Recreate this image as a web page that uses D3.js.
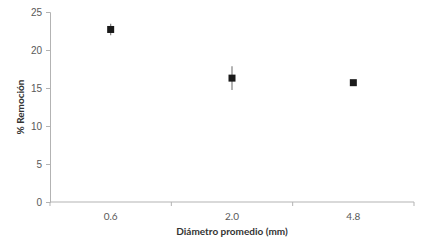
<!DOCTYPE html>
<html>
<head>
<meta charset="utf-8">
<script src="https://cdn.jsdelivr.net/npm/d3@7"></script>
<style>
  body { margin: 0; background: #fff; }
  svg { display: block; font-family: Lato, "Open Sans", sans-serif; }
</style>
</head>
<body>
<div id="chart"></div>
<script>
const categories = ["0.6", "2.0", "4.8"];
const removal = [22.7, 16.3, 15.7];
const removalErr = [0.75, 1.55, 0.3];
const yTicks = [0, 5, 10, 15, 20, 25];

const margin = {top: 12, right: 12, bottom: 50, left: 50};
const width = 426, height = 252;

const svg = d3.select("#chart").append("svg")
    .attr("width", width)
    .attr("height", height);

const x = d3.scaleBand()
    .domain(categories)
    .range([margin.left, width - margin.right]);

const y = d3.scaleLinear()
    .domain([0, 25])
    .range([height - margin.bottom, margin.top]);

// y axis
const yAxis = svg.append("g")
    .attr("transform", `translate(${margin.left},0)`)
    .call(d3.axisLeft(y).tickValues(yTicks).tickSize(4).tickPadding(4));
yAxis.select(".domain").attr("stroke", "#b3b3b3");
yAxis.selectAll(".tick line").attr("stroke", "#b3b3b3");
yAxis.selectAll(".tick text").attr("fill", "#595959").attr("font-size", 10);

// x axis, ticks on the band edges
const xAxis = svg.append("g")
    .attr("transform", `translate(0,${y(0)})`);
xAxis.append("line")
    .attr("x1", margin.left).attr("x2", width - margin.right)
    .attr("stroke", "#b3b3b3");
const edges = categories.map(c => x(c)).concat([x.range()[1]]);
xAxis.selectAll(".edge")
    .data(edges)
    .enter().append("line")
    .attr("class", "edge")
    .attr("x1", d => d).attr("x2", d => d)
    .attr("y1", 0).attr("y2", 4)
    .attr("stroke", "#b3b3b3");
xAxis.selectAll(".lbl")
    .data(categories)
    .enter().append("text")
    .attr("class", "lbl")
    .attr("x", d => x(d) + x.bandwidth() / 2)
    .attr("y", 18)
    .attr("text-anchor", "middle")
    .attr("fill", "#595959")
    .attr("font-size", 10)
    .text(d => d);

// axis titles
svg.append("text")
    .attr("x", x.range()[0] + (x.range()[1] - x.range()[0]) / 2)
    .attr("y", 235)
    .attr("text-anchor", "middle")
    .attr("font-size", 10)
    .attr("font-weight", "bold")
    .attr("fill", "#333")
    .text("Diámetro promedio (mm)");

svg.append("text")
    .attr("transform", `translate(24,${(y(0) + y(25)) / 2}) rotate(-90)`)
    .attr("text-anchor", "middle")
    .attr("font-size", 10)
    .attr("font-weight", "bold")
    .attr("fill", "#333")
    .text("% Remoción");

const pts = categories.map((c, i) => ({c: c, v: removal[i], e: removalErr[i]}));

// error bars
svg.selectAll(".err")
    .data(pts)
    .enter().append("line")
    .attr("class", "err")
    .attr("x1", d => x(d.c) + x.bandwidth() / 2)
    .attr("x2", d => x(d.c) + x.bandwidth() / 2)
    .attr("y1", d => y(d.v + d.e))
    .attr("y2", d => y(d.v - d.e))
    .attr("stroke", "#808080")
    .attr("stroke-width", 1.2);

// markers
const s = 7;
svg.selectAll(".pt")
    .data(pts)
    .enter().append("rect")
    .attr("class", "pt")
    .attr("x", d => x(d.c) + x.bandwidth() / 2 - s / 2)
    .attr("y", d => y(d.v) - s / 2)
    .attr("width", s)
    .attr("height", s)
    .attr("fill", "#1a1a1a");
</script>
</body>
</html>
